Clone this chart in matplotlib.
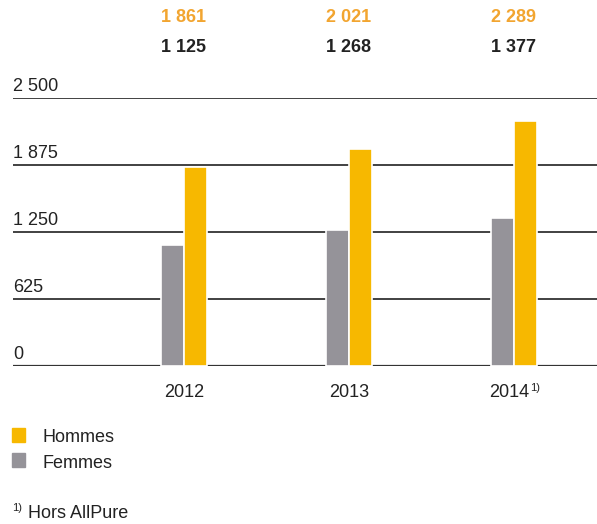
import matplotlib
matplotlib.use("Agg")
from matplotlib import pyplot as plt
import numpy as np

plt.rcParams['font.family'] = ['Liberation Sans Narrow', 'Liberation Sans', 'DejaVu Sans']

years = ["2012", "2013", "2014"]
hommes = [1861, 2021, 2289]
femmes = [1125, 1268, 1377]
hommes_labels = ["1 861", "2 021", "2 289"]
femmes_labels = ["1 125", "1 268", "1 377"]
yticks = [0, 625, 1250, 1875, 2500]
ytick_labels = ["0", "625", "1 250", "1 875", "2 500"]

YELLOW = "#F7B800"
GREY = "#959399"
ORANGE = "#F2A530"
DARK = "#222222"

W, H = 597, 524
fig = plt.figure(figsize=(W / 100, H / 100), dpi=100)
# axes in pixel positions: left 13, right 597, y=0 at 366, y=2500 at 98
ax = fig.add_axes([13 / W, (H - 366) / H, (W - 13) / W, (366 - 98) / H])
ax.set_xlim(-1.036, 2.503)
ax.set_ylim(0, 2500)
ax.axis('off')

for v, lab in zip(yticks, ytick_labels):
    ax.axhline(v, color="#333333", lw=1.3 if v else 1.6, zorder=1)
    ax.text(-1.036, v + 30, lab, fontsize=13, color=DARK, ha='left', va='bottom')

x = np.arange(len(years))
w = 0.142
ax.bar(x - w / 2, femmes, w, color=GREY, edgecolor='white', lw=1.2, zorder=2)
ax.bar(x + w / 2, hommes, w, color=YELLOW, edgecolor='white', lw=1.2, zorder=2)

for i in range(len(years)):
    ax.text(x[i], 3250, hommes_labels[i], color=ORANGE, fontsize=13, weight='bold',
            ha='center', va='center', clip_on=False)
    ax.text(x[i], 2970, femmes_labels[i], color=DARK, fontsize=13, weight='bold',
            ha='center', va='center', clip_on=False)
    if i == 2:
        ax.text(x[i] + 0.091, -245, years[i], color=DARK, fontsize=13,
                ha='right', va='center', clip_on=False)
        ax.text(x[i] + 0.097, -205, "1)", color=DARK, fontsize=8,
                ha='left', va='center', clip_on=False)
    else:
        ax.text(x[i], -245, years[i], color=DARK, fontsize=13,
                ha='center', va='center', clip_on=False)

# legend
fig.patches.append(plt.Rectangle((12 / W, 1 - 442 / H), 13 / W, 14 / H, color=YELLOW,
                                 transform=fig.transFigure, figure=fig))
fig.patches.append(plt.Rectangle((12 / W, 1 - 467 / H), 13 / W, 14 / H, color=GREY,
                                 transform=fig.transFigure, figure=fig))
fig.text(43 / W, 1 - 437 / H, "Hommes", fontsize=13, color=DARK, va='center')
fig.text(43 / W, 1 - 463 / H, "Femmes", fontsize=13, color=DARK, va='center')

fig.text(12 / W, 1 - 508 / H, "1)", fontsize=8, color=DARK, va='center')
fig.text(28 / W, 1 - 514 / H, "Hors AllPure", fontsize=13, color=DARK, va='center')

fig.savefig("out.png", dpi=100)
